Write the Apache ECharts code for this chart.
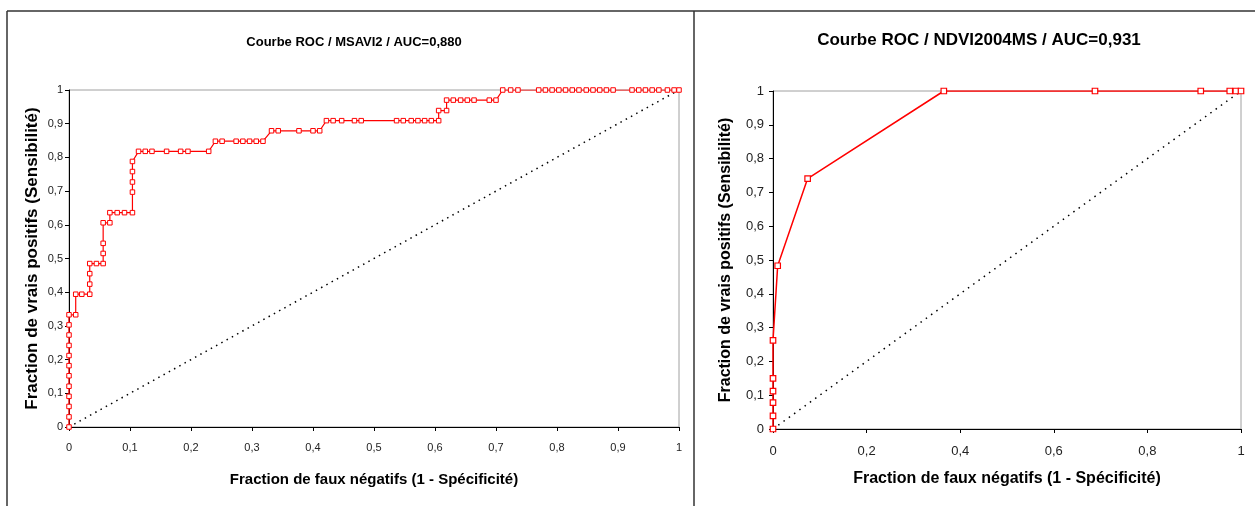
<!DOCTYPE html>
<html>
<head>
<meta charset="utf-8">
<title>Courbes ROC</title>
<script src="https://cdn.jsdelivr.net/npm/echarts@6/dist/echarts.min.js"></script>
<style>
  html, body { margin: 0; padding: 0; background: #fff; }
  #main { width: 1255px; height: 506px; }
</style>
</head>
<body>
<div id="main"></div>
<script>
// Courbe ROC MSAVI2 (gauche)
var msaviFpr = [
  0, 0, 0, 0, 0, 0, 0, 0, 0, 0, 0, 0,
  0.011, 0.011, 0.021, 0.034, 0.034, 0.034, 0.034, 0.045, 0.056, 0.056, 0.056, 0.056, 0.067, 0.067, 0.079, 0.091, 0.104, 0.104, 0.104, 0.104, 0.104,
  0.114, 0.125, 0.136, 0.160, 0.183, 0.195, 0.229,
  0.240, 0.251, 0.274, 0.285, 0.296, 0.307, 0.318,
  0.332, 0.343, 0.377, 0.400, 0.411,
  0.422, 0.433, 0.447, 0.468, 0.479, 0.537, 0.548, 0.561, 0.572, 0.583, 0.594, 0.606,
  0.606, 0.619,
  0.619, 0.630, 0.642, 0.653, 0.664, 0.689, 0.700,
  0.711, 0.724, 0.736, 0.770, 0.781, 0.792, 0.803, 0.814, 0.825, 0.836, 0.848, 0.859, 0.870, 0.881, 0.892, 0.923, 0.934, 0.945, 0.956, 0.967, 0.981, 0.992, 1
];
var msaviTpr = [
  0, 0.030, 0.061, 0.091, 0.121, 0.152, 0.182, 0.212, 0.242, 0.273, 0.303, 0.333,
  0.333, 0.394, 0.394, 0.394, 0.424, 0.455, 0.485, 0.485, 0.485, 0.515, 0.545, 0.606, 0.606, 0.636, 0.636, 0.636, 0.636, 0.697, 0.727, 0.758, 0.788,
  0.818, 0.818, 0.818, 0.818, 0.818, 0.818, 0.818,
  0.848, 0.848, 0.848, 0.848, 0.848, 0.848, 0.848,
  0.879, 0.879, 0.879, 0.879, 0.879,
  0.909, 0.909, 0.909, 0.909, 0.909, 0.909, 0.909, 0.909, 0.909, 0.909, 0.909, 0.909,
  0.939, 0.939,
  0.970, 0.970, 0.970, 0.970, 0.970, 0.970, 0.970,
  1, 1, 1, 1, 1, 1, 1, 1, 1, 1, 1, 1, 1, 1, 1, 1, 1, 1, 1, 1, 1, 1, 1
];

// Courbe ROC NDVI2004MS (droite)
var ndviFpr = [0, 0, 0, 0, 0, 0, 0.010, 0.074, 0.365, 0.688, 0.914, 0.976, 0.989, 1];
var ndviTpr = [0, 0.039, 0.078, 0.112, 0.150, 0.262, 0.483, 0.741, 1, 1, 1, 1, 1, 1];

// diagonale de reference
var diagX = [0, 1];
var diagY = [0, 1];

var titles = ['Courbe ROC / MSAVI2 / AUC=0,880', 'Courbe ROC / NDVI2004MS / AUC=0,931'];
var xName = 'Fraction de faux négatifs (1 - Spécificité)';
var yName = 'Fraction de vrais positifs (Sensibilité)';

function pairs(xs, ys) {
  var out = [];
  for (var i = 0; i < xs.length; i++) out.push([xs[i], ys[i]]);
  return out;
}
function virgule(v) {
  return String(+v.toFixed(1)).replace('.', ',');
}

var narrow = "'Liberation Sans Narrow', 'Liberation Sans', sans-serif";
var arial = "'Liberation Sans', Arial, sans-serif";

var myChart = echarts.init(document.getElementById('main'));

function axisX(idx, interval, font, size, nameSize, gap, margin) {
  return {
    type: 'value', gridIndex: idx, min: 0, max: 1, interval: interval,
    name: xName, nameLocation: 'middle', nameGap: gap,
    nameTextStyle: { fontFamily: font, fontWeight: 'bold', fontSize: nameSize, color: '#000' },
    axisLine: { onZero: false, lineStyle: { color: '#000', width: 1 } },
    axisTick: { length: 4, lineStyle: { color: '#000' } },
    axisLabel: { margin: margin, fontFamily: font, fontSize: size, color: '#222', formatter: virgule },
    splitLine: { show: false }
  };
}
function axisY(idx, font, size, nameSize, gap, margin) {
  return {
    type: 'value', gridIndex: idx, min: 0, max: 1, interval: 0.1,
    name: yName, nameLocation: 'middle', nameGap: gap,
    nameTextStyle: { fontFamily: arial, fontWeight: 'bold', fontSize: nameSize, color: '#000' },
    axisLine: { onZero: false, lineStyle: { color: '#000', width: 1 } },
    axisTick: { length: 4, lineStyle: { color: '#000' } },
    axisLabel: { margin: margin, fontFamily: font, fontSize: size, color: '#222', formatter: virgule },
    splitLine: { show: false }
  };
}

var option = {
  animation: false,
  backgroundColor: '#fff',
  title: [
    { text: titles[0], left: 349, top: 31, textAlign: 'center',
      textStyle: { fontFamily: narrow, fontWeight: 'bold', fontSize: 13, color: '#000' } },
    { text: titles[1], left: 974, top: 27, textAlign: 'center',
      textStyle: { fontFamily: arial, fontWeight: 'bold', fontSize: 17, color: '#000' } }
  ],
  grid: [
    { left: 69, right: 576, top: 90, bottom: 79, show: true, borderColor: '#a0a0a0', borderWidth: 1 },
    { left: 773, right: 14, top: 91, bottom: 77, show: true, borderColor: '#a0a0a0', borderWidth: 1 }
  ],
  xAxis: [axisX(0, 0.1, narrow, 11, 15, 45, 15), axisX(1, 0.2, arial, 13, 16, 42, 16)],
  yAxis: [axisY(0, narrow, 11, 17, 28, 6), axisY(1, arial, 13, 16, 39, 9)],
  series: [
    { type: 'line', xAxisIndex: 0, yAxisIndex: 0, data: pairs(diagX, diagY), symbol: 'none',
      lineStyle: { color: '#000', width: 1.5, type: [1.5, 4.5] } },
    { type: 'line', xAxisIndex: 0, yAxisIndex: 0, data: pairs(msaviFpr, msaviTpr),
      symbol: 'rect', symbolSize: 4.5,
      itemStyle: { color: '#fff', borderColor: '#f00', borderWidth: 1 },
      lineStyle: { color: '#f00', width: 1.2 } },
    { type: 'line', xAxisIndex: 1, yAxisIndex: 1, data: pairs(diagX, diagY), symbol: 'none',
      lineStyle: { color: '#000', width: 1.5, type: [1.5, 5] } },
    { type: 'line', xAxisIndex: 1, yAxisIndex: 1, data: pairs(ndviFpr, ndviTpr),
      symbol: 'rect', symbolSize: 5.5,
      itemStyle: { color: '#fff', borderColor: '#f00', borderWidth: 1.2 },
      lineStyle: { color: '#f00', width: 1.5 } }
  ],
  // cadres des deux graphiques
  graphic: [
    { type: 'line', shape: { x1: 7, y1: 11, x2: 1255, y2: 11 }, style: { stroke: '#333', lineWidth: 1.5 } },
    { type: 'line', shape: { x1: 7, y1: 11, x2: 7, y2: 506 }, style: { stroke: '#333', lineWidth: 1.5 } },
    { type: 'line', shape: { x1: 694, y1: 11, x2: 694, y2: 506 }, style: { stroke: '#333', lineWidth: 1.5 } }
  ]
};

myChart.setOption(option);
</script>
</body>
</html>
